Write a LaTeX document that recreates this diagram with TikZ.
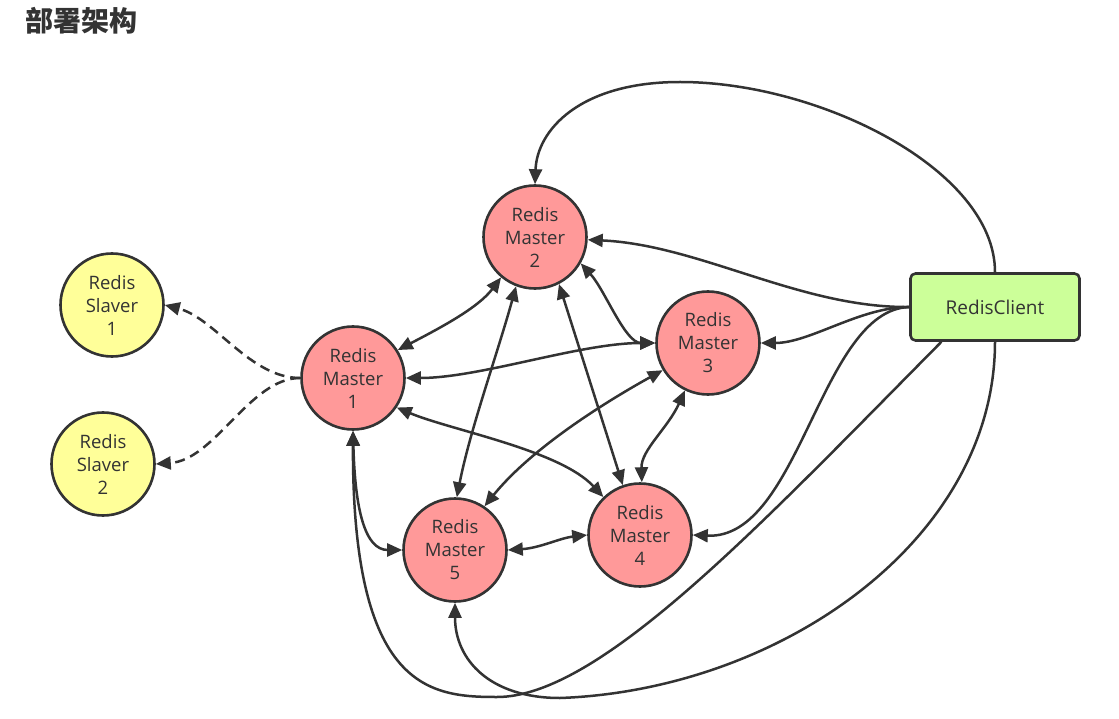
\documentclass[tikz,border=0pt]{standalone}
\usepackage{fontspec}
\setmainfont{Open Sans}
\newfontfamily\cjk{Noto Sans CJK SC}
\usetikzlibrary{arrows.meta,calc}
\definecolor{ink}{HTML}{333333}
\definecolor{mfill}{HTML}{FF9999}
\definecolor{sfill}{HTML}{FFFF99}
\definecolor{cfill}{HTML}{CCFF99}
\begin{document}
\begin{tikzpicture}[x=1pt,y=-1pt,
  master/.style={circle,draw=ink,line width=2.6pt,fill=mfill,minimum size=103pt,inner sep=0pt,align=center,text=ink,font=\fontsize{18.5}{23}\selectfont},
  slave/.style={master,fill=sfill},
  client/.style={rectangle,rounded corners=5pt,draw=ink,line width=2.6pt,fill=cfill,minimum width=169pt,minimum height=67pt,text=ink,font=\fontsize{19}{23}\selectfont},
  link/.style={draw=ink,line width=2.5pt,-{Triangle[length=15pt,width=13pt]}},
  both/.style={draw=ink,line width=2.5pt,{Triangle[length=15pt,width=13pt]}-{Triangle[length=15pt,width=13pt]}},
  dashlink/.style={link,dash pattern=on 10pt off 6pt},
]
\fill[white] (0,0) rectangle (1119,719);
\useasboundingbox (0,0) rectangle (1119,719);

\node[anchor=west,text=ink,font=\cjk\bfseries\fontsize{28}{30}\selectfont] (title) at (22,21) {部署架构};

\node[slave] (s1) at (112,305) {Redis\\Slaver\\1};
\node[slave] (s2) at (103,464) {Redis\\Slaver\\2};
\node[master] (m1) at (353,378) {Redis\\Master\\1};
\node[master] (m2) at (535,237) {Redis\\Master\\2};
\node[master] (m3) at (708,343) {Redis\\Master\\3};
\node[master] (m4) at (640,535) {Redis\\Master\\4};
\node[master] (m5) at (455,550) {Redis\\Master\\5};
\node[client] (c) at (995,307) {RedisClient};

% master to slaves
\draw[dashlink] (m1.west) .. controls (250,378) and (215,318) .. (s1.east);
\draw[dashlink] (m1.west) .. controls (250,378) and (215,460) .. (s2.east);

% master mesh
\draw[both] (m1.32) .. controls (440,328) and (478,308) .. (m2.230);
\draw[both] (m1.east) .. controls (480,378) and (580,343) .. (m3.west);
\draw[both] (m2.330) .. controls (605,290) and (625,343) .. (m3.west);
\draw[both] (m1.326) .. controls (450,430) and (560,450) .. (m4.134);
\draw[both] (m1.south) .. controls (355,510) and (365,550) .. (m5.west);
\draw[both] (m2.249) .. controls (497,355) and (470,430) .. (m5.88);
\draw[both] (m2.297) -- (m4.109);
\draw[both] (m3.211) .. controls (600,405) and (530,450) .. (m5.56);
\draw[both] (m3.244) .. controls (668,428) and (641,450) .. (m4.88);
\draw[both] (m5.east) .. controls (540,548) and (560,538) .. (m4.west);

% client links
\draw[link] (c.west) .. controls (800,308) and (700,245) .. (m2.357);
\draw[link] (c.west) .. controls (860,307) and (810,343) .. (m3.east);
\draw[link] (c.west) .. controls (820,310) and (800,540) .. (m4.east);
\draw[link] (c.213) .. controls (760,525) and (600,697) .. (497,697) .. controls (430,697) and (352,690) .. (m1.south);
\draw[link] (c.south) .. controls (995,540) and (780,690) .. (560,698) .. controls (490,698) and (455,660) .. (m5.south);
\draw[link] (c.north) .. controls (995,170) and (820,82) .. (680,82) .. controls (580,82) and (537,130) .. (m2.north);
\end{tikzpicture}
\end{document}
